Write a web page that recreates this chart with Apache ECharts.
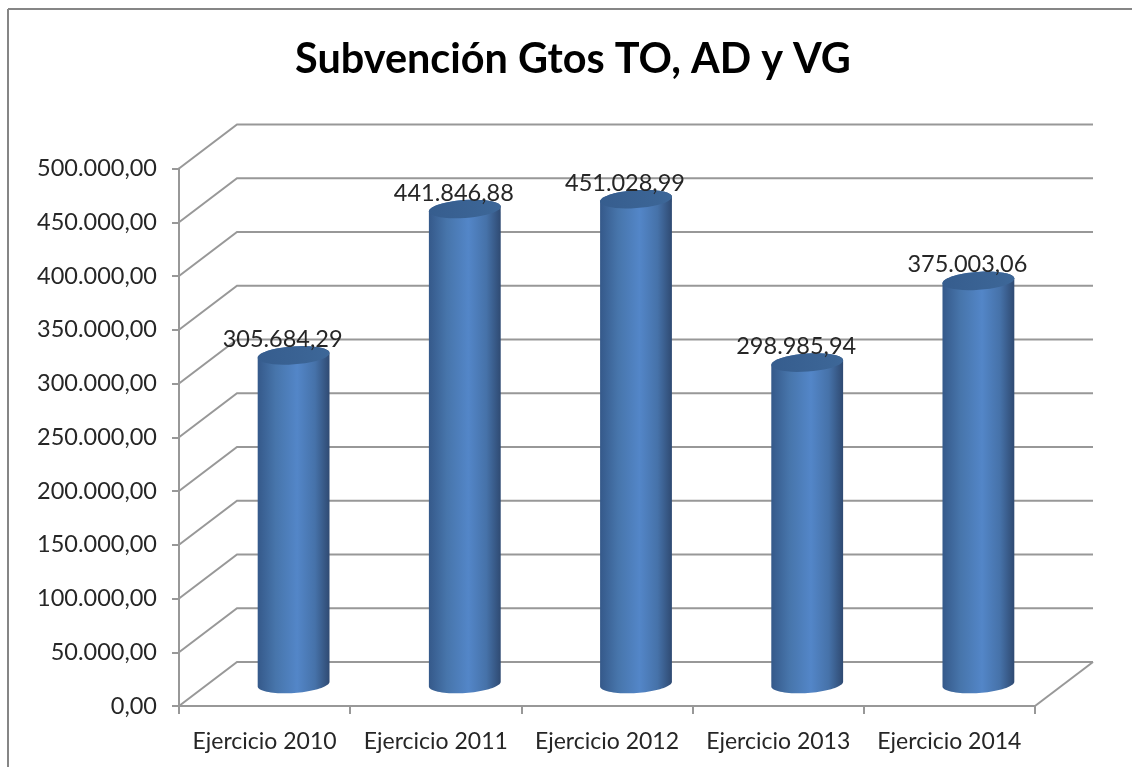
<!DOCTYPE html>
<html>
<head>
<meta charset="utf-8">
<style>
  html, body { margin: 0; padding: 0; background: #fff; }
  #chart { width: 1132px; height: 767px; }
</style>
<script src="https://cdn.jsdelivr.net/npm/echarts@6/dist/echarts.min.js"></script>
</head>
<body>
<div id="chart"></div>
<script>
const titleText = "Subvención Gtos TO, AD y VG";
const categories = ["Ejercicio 2010", "Ejercicio 2011", "Ejercicio 2012", "Ejercicio 2013", "Ejercicio 2014"];
const values = [305684.29, 441846.88, 451028.99, 298985.94, 375003.06];
const yTicks = [0, 50000, 100000, 150000, 200000, 250000, 300000, 350000, 400000, 450000, 500000];

const depthX = 58, depthY = 44; // front plane -> back wall
const radiusX = 36, radiusY = 9, tilt = (4 * Math.PI) / 180;
const lineColor = "#989898";
const textColor = "#262626";
const fontName = "Lato";

function fmt(v) {
  const parts = v.toFixed(2).split(".");
  return parts[0].replace(/\B(?=(\d{3})+$)/g, ".") + "," + parts[1];
}

// point on the tilted ellipse of a cylinder end
function ellipsePoint(cx, cy, t) {
  const ex = radiusX * Math.cos(t), ey = radiusY * Math.sin(t);
  return [cx + ex * Math.cos(tilt) + ey * Math.sin(tilt), cy - ex * Math.sin(tilt) + ey * Math.cos(tilt)];
}

function arc(cx, cy, from, to) {
  const pts = [];
  for (let i = 0; i <= 40; i++) pts.push(ellipsePoint(cx, cy, from + ((to - from) * i) / 40));
  return pts;
}

function renderWall(params, api) {
  const rect = params.coordSys;
  const y = api.coord([0, api.value(1)])[1];
  const style = { stroke: lineColor, lineWidth: 2, fill: null };
  const children = [
    { type: "polyline", shape: { points: [[rect.x, y], [rect.x + depthX, y - depthY], [rect.x + rect.width + depthX, y - depthY]] }, style: style }
  ];
  if (api.value(1) === 0) {
    // right edge of the floor
    children.push({ type: "line", shape: { x1: rect.x + rect.width, y1: y, x2: rect.x + rect.width + depthX, y2: y - depthY }, style: style });
  }
  return { type: "group", children: children };
}

function renderCylinder(params, api) {
  const top = api.coord([api.value(0), api.value(1)]);
  const base = api.coord([api.value(0), 0]);
  const cx = top[0] + depthX / 2;
  const topY = top[1] - depthY / 2;
  const baseY = base[1] - depthY / 2;
  const bodyPts = arc(cx, baseY, 0, Math.PI).concat(arc(cx, topY, Math.PI, 2 * Math.PI));
  return {
    type: "group",
    children: [
      {
        type: "polygon",
        shape: { points: bodyPts },
        style: {
          fill: new echarts.graphic.LinearGradient(0, 0, 1, 0, [
            { offset: 0, color: "#35598a" },
            { offset: 0.25, color: "#4775ab" },
            { offset: 0.55, color: "#5386c8" },
            { offset: 0.8, color: "#4672a9" },
            { offset: 1, color: "#2f4a72" }
          ])
        }
      },
      {
        type: "polygon",
        shape: { points: arc(cx, topY, 0, 2 * Math.PI) },
        style: {
          fill: new echarts.graphic.LinearGradient(0, 0, 1, 0, [
            { offset: 0, color: "#365d8e" },
            { offset: 1, color: "#3d6798" }
          ])
        }
      },
      {
        type: "text",
        x: cx - 11,
        y: topY - 16,
        style: {
          text: fmt(api.value(1)),
          fill: textColor,
          font: "23.5px " + fontName,
          align: "center",
          verticalAlign: "middle"
        }
      }
    ]
  };
}

const chart = echarts.init(document.getElementById("chart"));
chart.setOption({
  animation: false,
  backgroundColor: "#fff",
  title: {
    text: titleText,
    left: 568,
    top: 34,
    textAlign: "center",
    textStyle: { fontFamily: fontName, fontWeight: "bold", fontSize: 41.4, color: "#000" }
  },
  graphic: [
    { type: "line", shape: { x1: 8, y1: 9, x2: 1132, y2: 9 }, style: { stroke: "#868686", lineWidth: 2 } },
    { type: "line", shape: { x1: 8, y1: 9, x2: 8, y2: 767 }, style: { stroke: "#868686", lineWidth: 2 } }
  ],
  grid: { left: 179, right: 97, top: 168.5, bottom: 61 },
  xAxis: {
    type: "category",
    data: categories,
    axisLine: { lineStyle: { color: lineColor, width: 2 } },
    axisTick: { show: true, alignWithLabel: false, length: 8, lineStyle: { color: lineColor, width: 2 } },
    axisLabel: { color: textColor, fontFamily: fontName, fontSize: 23, margin: 24, interval: 0 },
    splitLine: { show: false }
  },
  yAxis: {
    type: "value",
    min: 0,
    max: 500000,
    interval: 50000,
    axisLine: { show: true, lineStyle: { color: lineColor, width: 2 } },
    axisTick: { show: true, length: 7, lineStyle: { color: lineColor, width: 2 } },
    axisLabel: { color: textColor, fontFamily: fontName, fontSize: 23.5, margin: 22, formatter: fmt },
    splitLine: { show: false }
  },
  series: [
    {
      type: "custom",
      renderItem: renderWall,
      silent: true,
      z: 1,
      encode: { x: 0, y: 1 },
      data: yTicks.map(v => [0, v])
    },
    {
      type: "custom",
      renderItem: renderCylinder,
      z: 3,
      encode: { x: 0, y: 1 },
      data: values.map((v, i) => [i, v])
    }
  ]
});
</script>
</body>
</html>
